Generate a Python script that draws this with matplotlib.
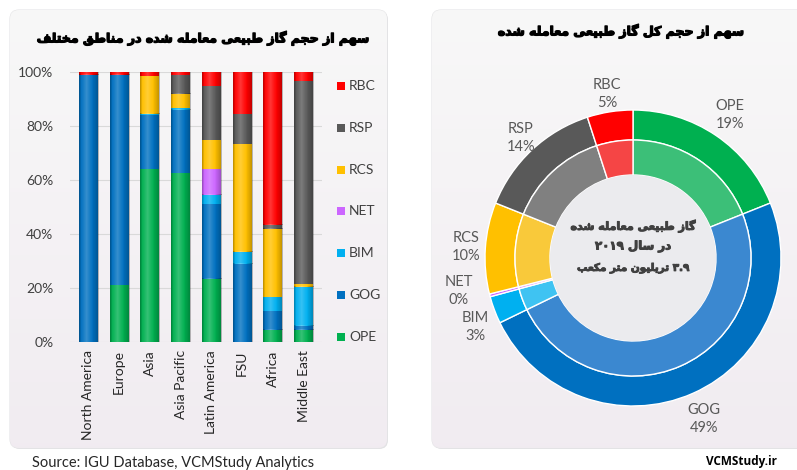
import re
import numpy as np
import matplotlib
matplotlib.use("Agg")
import matplotlib.pyplot as plt
import matplotlib.patheffects as pe
from matplotlib.patches import FancyBboxPatch, Rectangle, Circle

# ---------------- data ----------------
regions = ["North America", "Europe", "Asia", "Asia Pacific",
           "Latin America", "FSU", "Africa", "Middle East"]
series_names = ["OPE", "GOG", "BIM", "NET", "RCS", "RSP", "RBC"]
OPE = [0, 21, 64, 62.5, 23.5, 0, 4.5, 4.5]
GOG = [99, 78, 20, 23.5, 27.5, 29, 7, 1.5]
BIM = [0, 0, 0.5, 0.5, 3.5, 4.5, 5, 14.5]
NET = [0, 0, 0, 0, 9.5, 0, 0, 0]
RCS = [0, 0, 14, 5.5, 11, 40, 25.5, 1]
RSP = [0, 0, 0, 7, 20, 11, 1.5, 75]
RBC = [1, 1, 1.5, 1, 5, 15.5, 56.5, 3.5]
y_ticks = [0, 20, 40, 60, 80, 100]

pie_names = ["OPE", "GOG", "BIM", "NET", "RCS", "RSP", "RBC"]
pie_values = [19, 49, 3, 0.3, 10, 14, 5]

title_left = "سهم از حجم گاز طبیعی معامله شده در مناطق مختلف"
title_right = "سهم از حجم کل گاز طبیعی معامله شده"
center_lines = ["گاز طبیعی معامله شده", "در سال ۲۰۱۹", "۳.۹ تریلیون متر مکعب"]
source_text = "Source: IGU Database, VCMStudy Analytics"
brand_text = "VCMStudy.ir"

# ---------------- styles ----------------
colors = {"OPE": "#00b050", "GOG": "#0070c0", "BIM": "#00b0f0", "NET": "#cc66ff",
          "RCS": "#ffc000", "RSP": "#595959", "RBC": "#ff0000"}
inner_colors = {"OPE": "#3cbf78", "GOG": "#3b88d0", "BIM": "#3fc3f2", "NET": "#d88cff",
                "RCS": "#f9c93a", "RSP": "#808080", "RBC": "#f54545"}

# ---------------- Persian shaping helper ----------------
FORMS = {  # iso, fin, ini, med
    'ا': ('\uFE8D', '\uFE8E', None, None), 'د': ('\uFEA9', '\uFEAA', None, None),
    'ر': ('\uFEAD', '\uFEAE', None, None), 'ز': ('\uFEAF', '\uFEB0', None, None),
    'و': ('\uFEED', '\uFEEE', None, None),
    'ب': ('\uFE8F', '\uFE90', '\uFE91', '\uFE92'), 'ت': ('\uFE95', '\uFE96', '\uFE97', '\uFE98'),
    'ج': ('\uFE9D', '\uFE9E', '\uFE9F', '\uFEA0'), 'ح': ('\uFEA1', '\uFEA2', '\uFEA3', '\uFEA4'),
    'خ': ('\uFEA5', '\uFEA6', '\uFEA7', '\uFEA8'), 'س': ('\uFEB1', '\uFEB2', '\uFEB3', '\uFEB4'),
    'ش': ('\uFEB5', '\uFEB6', '\uFEB7', '\uFEB8'), 'ط': ('\uFEC1', '\uFEC2', '\uFEC3', '\uFEC4'),
    'ع': ('\uFEC9', '\uFECA', '\uFECB', '\uFECC'), 'ف': ('\uFED1', '\uFED2', '\uFED3', '\uFED4'),
    'ق': ('\uFED5', '\uFED6', '\uFED7', '\uFED8'), 'ل': ('\uFEDD', '\uFEDE', '\uFEDF', '\uFEE0'),
    'م': ('\uFEE1', '\uFEE2', '\uFEE3', '\uFEE4'), 'ن': ('\uFEE5', '\uFEE6', '\uFEE7', '\uFEE8'),
    'ه': ('\uFEE9', '\uFEEA', '\uFEEB', '\uFEEC'), 'ک': ('\uFB8E', '\uFB8F', '\uFB90', '\uFB91'),
    'گ': ('\uFB92', '\uFB93', '\uFB94', '\uFB95'), 'ی': ('\uFBFC', '\uFBFD', '\uFBFE', '\uFBFF'),
}


def fa(text):
    out = []
    n = len(text)
    for i, ch in enumerate(text):
        if ch not in FORMS:
            out.append(ch)
            continue
        f = FORMS[ch]
        prev = text[i - 1] if i > 0 else None
        nxt = text[i + 1] if i < n - 1 else None
        pj = prev in FORMS and FORMS[prev][2] is not None
        nj = nxt in FORMS and f[2] is not None
        if pj and nj:
            out.append(f[3])
        elif pj:
            out.append(f[1])
        elif nj:
            out.append(f[2])
        else:
            out.append(f[0])
    vis = "".join(out)[::-1]
    vis = re.sub(r"[0-9\u06F0-\u06F9.]+", lambda m: m.group(0)[::-1], vis)
    return vis


FA_FONT = ["DejaVu Sans"]
LAT_FONT = ["Lato", "DejaVu Sans"]
heavy = [pe.withStroke(linewidth=0.9, foreground="black")]
heavy_g = [pe.withStroke(linewidth=0.7, foreground="#404040")]

# ---------------- figure ----------------
W, H = 797, 470
fig = plt.figure(figsize=(W / 100, H / 100), dpi=100)
fig.patch.set_facecolor("white")

bg = fig.add_axes([0, 0, 1, 1], zorder=-10)
bg.axis("off")

grad = np.linspace(0, 1, 256).reshape(-1, 1)
top_c = np.array([0.972, 0.972, 0.972])
bot_c = np.array([0.945, 0.925, 0.945])
img = top_c[None, None, :] * (1 - grad[:, :, None]) + bot_c[None, None, :] * grad[:, :, None]

for (x0, y0, x1, y1) in [(10, 10, 387, 448), (432, 10, 812, 448)]:
    shadow = FancyBboxPatch((x0 + 1, y0 + 1), x1 - x0, y1 - y0,
                            boxstyle="round,pad=0,rounding_size=9",
                            fc="#e2e2e4", ec="none", zorder=0)
    bg.add_patch(shadow)
    panel = FancyBboxPatch((x0, y0), x1 - x0, y1 - y0,
                           boxstyle="round,pad=0,rounding_size=9",
                           fc="#f4f3f5", ec="#e4e4e6", lw=0.8, zorder=1)
    bg.add_patch(panel)
    im = bg.imshow(img, extent=(x0, x1, y1, y0), aspect="auto", zorder=2)
    im.set_clip_path(panel)
bg.set_xlim(0, W)
bg.set_ylim(H, 0)

# titles
fig.text(203 / W, 1 - 38 / H, fa(title_left), family=FA_FONT, weight="bold",
         fontsize=9, ha="center", va="center", color="black", path_effects=heavy)
fig.text(621 / W, 1 - 31 / H, fa(title_right), family=FA_FONT, weight="bold",
         fontsize=9, ha="center", va="center", color="black", path_effects=heavy)

# ---------------- bar chart ----------------
ax = fig.add_axes([70 / W, 1 - 342 / H, (322 - 70) / W, (342 - 72) / H])
ax.set_facecolor("none")
data = {"OPE": OPE, "GOG": GOG, "BIM": BIM, "NET": NET, "RCS": RCS, "RSP": RSP, "RBC": RBC}
x = np.arange(len(regions))
bottom = np.zeros(len(regions))
all_patches = []
for name in series_names:
    vals = np.array(data[name], dtype=float)
    bars = ax.bar(x, vals, bottom=bottom, width=0.62, color=colors[name], zorder=3, linewidth=0)
    all_patches.extend(bars.patches)
    bottom += vals

# cylinder shading overlay on each bar segment
t = np.linspace(0, 1, 64)
shade = np.zeros((1, 64, 4))
light = np.clip(1 - np.abs(t - 0.38) / 0.38, 0, 1) ** 1.5
dark = np.clip((t - 0.6) / 0.4, 0, 1) ** 1.3 + np.clip((0.12 - t) / 0.12, 0, 1)
shade[0, :, :3] = np.where(light[:, None] > dark[:, None], 1.0, 0.0)
shade[0, :, 3] = np.maximum(light * 0.22, dark * 0.28)
for p in all_patches:
    if p.get_height() <= 0:
        continue
    xx, yy, ww, hh = p.get_x(), p.get_y(), p.get_width(), p.get_height()
    ax.imshow(shade, extent=(xx, xx + ww, yy, yy + hh), aspect="auto", zorder=4,
              interpolation="bilinear")

ax.set_xlim(-0.6, len(regions) - 0.4)
ax.set_ylim(0, 100)
ax.set_yticks(y_ticks)
ax.set_yticklabels([f"{v}%" for v in y_ticks], family=LAT_FONT, fontsize=10, color="#404040")
ax.set_xticks(x)
ax.set_xticklabels(regions, rotation=90, family=LAT_FONT, fontsize=10, color="#262626")
ax.tick_params(length=0, pad=6)
ax.tick_params(axis="y", pad=12)
ax.grid(axis="y", color="#d9d9d9", lw=0.8, zorder=0)
for s in ax.spines.values():
    s.set_visible(False)

# legend (manual)
leg_y0, leg_dy = 86, 41.8
for i, name in enumerate(series_names[::-1]):
    yy = leg_y0 + i * leg_dy
    bg.add_patch(Rectangle((337, yy - 4), 8, 8, fc=colors[name], ec="none", zorder=5))
    bg.text(349, yy, name, family=LAT_FONT, fontsize=10, color="#404040",
            va="center", ha="left", zorder=5)

# ---------------- donut ----------------
cx, cy, R = 633, 258, 148
half = 160
pax = fig.add_axes([(cx - half) / W, 1 - (cy + half) / H, 2 * half / W, 2 * half / H])
pax.axis("off")

outer_w = 30 / R
inner_r = 1 - outer_w
inner_w = 35 / R
pax.pie(pie_values, radius=1, startangle=90, counterclock=False,
        colors=[colors[n] for n in pie_names],
        wedgeprops=dict(width=outer_w, edgecolor="white", linewidth=1))
pax.pie(pie_values, radius=inner_r, startangle=90, counterclock=False,
        colors=[inner_colors[n] for n in pie_names],
        wedgeprops=dict(width=inner_w, edgecolor="white", linewidth=1))
hole_r = inner_r - inner_w
pax.add_patch(Circle((0, 0), hole_r, fc="#ebebee", ec="none", zorder=5))
pax.set_xlim(-half / R, half / R)
pax.set_ylim(-half / R, half / R)
pax.set_aspect("equal")

total = sum(pie_values)
cum = 0
label_dist = {"OPE": 1.17, "GOG": 1.19, "BIM": 1.16, "NET": 1.20, "RCS": 1.13,
              "RSP": 1.11, "RBC": 1.12}
label_shift = {"NET": -4.0, "BIM": 3.0}
for name, v in zip(pie_names, pie_values):
    mid = 90 - (cum + v / 2) / total * 360
    cum += v
    ang = np.deg2rad(mid + label_shift.get(name, 0))
    d = label_dist[name]
    pct = int(round(v / total * 100))
    pax.text(d * np.cos(ang), d * np.sin(ang), f"{name}\n{pct}%", ha="center", va="center",
             family=LAT_FONT, fontsize=10.5, color="#595959", linespacing=1.35, zorder=6)

# center text
fig.text(cx / W, 1 - 226 / H, fa(center_lines[0]), family=FA_FONT, weight="bold",
         fontsize=8, ha="center", va="center", color="#404040", path_effects=heavy_g)
fig.text(cx / W, 1 - 246 / H, fa(center_lines[1]), family=FA_FONT, weight="bold",
         fontsize=8.5, ha="center", va="center", color="#404040", path_effects=heavy_g)
fig.text(cx / W, 1 - 268 / H, fa(center_lines[2]), family=FA_FONT, weight="bold",
         fontsize=7.5, ha="center", va="center", color="#404040", path_effects=heavy_g)

# footer
fig.text(32 / W, 1 - 463 / H, source_text, family=LAT_FONT, fontsize=10.5,
         color="#262626", ha="left", va="center")
fig.text(741 / W, 1 - 461 / H, brand_text, family=["Open Sans", "DejaVu Sans"], weight="bold",
         fontsize=8.5, color="black", ha="center", va="center")

fig.savefig("out.png", dpi=100)
